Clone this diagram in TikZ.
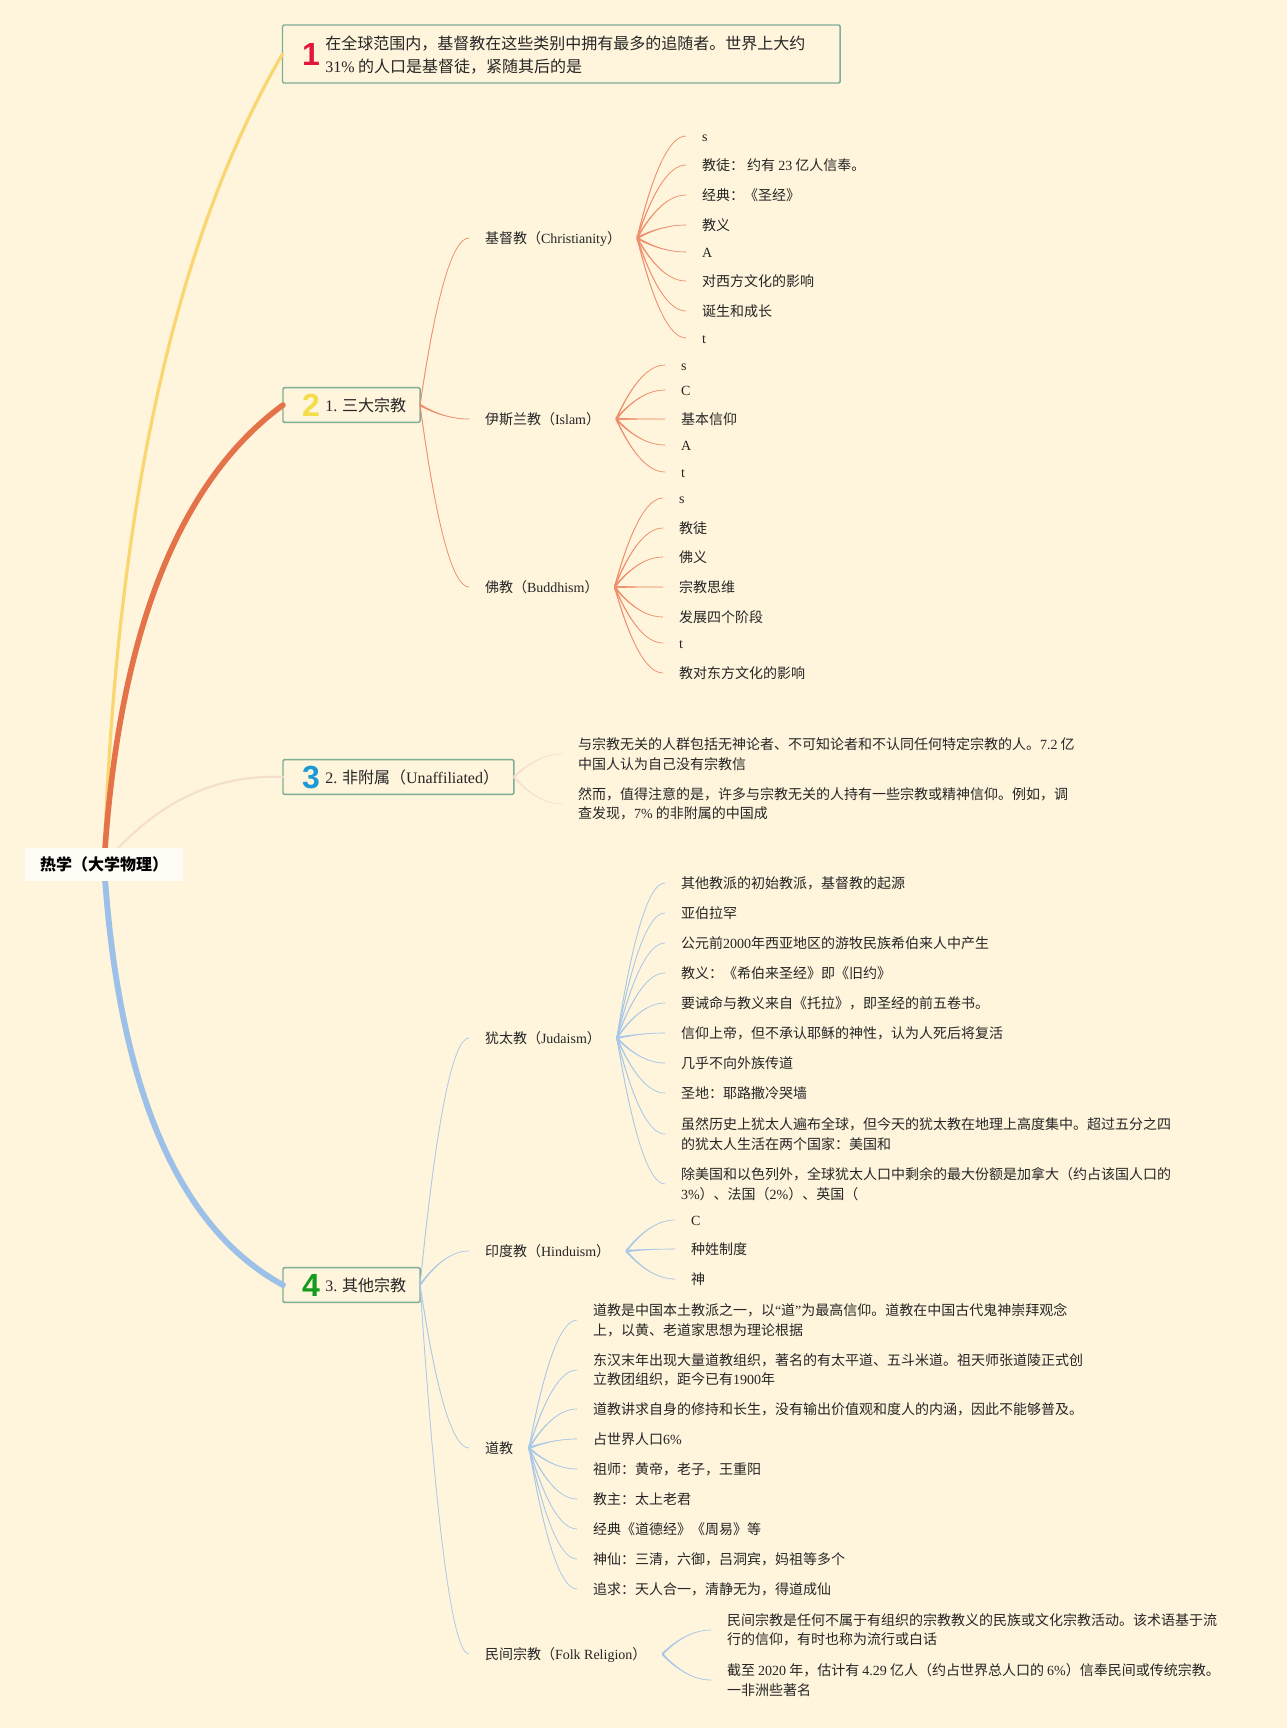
\documentclass[tikz,border=0pt]{standalone}
\usepackage{fontspec}
\newfontfamily\cjk{Noto Sans CJK SC}
\newfontfamily\latfont{Liberation Serif}
\newfontfamily\numfont{Liberation Sans}
\usetikzlibrary{calc}
\definecolor{cpaper}{HTML}{FFF4DC}
\definecolor{cframe}{HTML}{7FAE97}
\definecolor{cyellow}{HTML}{F9D66F}
\definecolor{corange}{HTML}{E5734A}
\definecolor{cblue}{HTML}{9CC0E7}
\definecolor{cpink}{HTML}{F6DECF}
\definecolor{cthinor}{HTML}{EE8F6D}
\definecolor{cthinbl}{HTML}{A9C8E8}
\definecolor{cfirst}{HTML}{E0163A}
\definecolor{csecond}{HTML}{F5DC4A}
\definecolor{cthird}{HTML}{1B9AD6}
\definecolor{cfourth}{HTML}{139C1E}
\newcommand{\lat}[1]{{\latfont #1}}
% tapered curve from the east side of #2 to the west side of #3
\newcommand{\branch}[3]{\draw[#1, fill=#1, line width=0.5pt] let \p1=(#2.east), \p2=(#3.west),
  \p3=({\x1+(\x2-\x1)/3},{\y1+(\y2-\y1)*2/3}), \p4=({\x2-(\x2-\x1)/3},\y2) in
  (\x1,{\y1+0.7pt}) .. controls (\p3) and (\p4) .. (\p2) .. controls (\p4) and (\p3) .. (\x1,{\y1-0.7pt}) -- cycle;}
\tikzset{
  topic/.style={draw=cframe, line width=1.1pt, rounded corners=1pt, anchor=west, inner sep=0pt, outer sep=0pt},
  toptext/.style={anchor=west, inner sep=0pt, align=left, text=black!85, font=\cjk\fontsize{12pt}{17.4pt}\selectfont},
  numb/.style={inner sep=0pt, font=\numfont\bfseries\fontsize{24pt}{24pt}\selectfont},
  para/.style={anchor=west, align=left, inner xsep=12pt, inner ysep=2pt, outer sep=0pt, text=black!85, font=\cjk\fontsize{10.5pt}{14.6pt}\selectfont},
  sub/.style={para, text height=9.2pt, text depth=1pt},
  leaf/.style={sub},
  mainline/.style={line cap=round},
}

\begin{document}
\begin{tikzpicture}[x=0.75pt, y=-0.75pt]
  \fill[cpaper] (0,0) rectangle (1287,1728);
  \coordinate (hub) at (104,864);
  % boxes of the first level
  \node[topic, minimum width=418.2pt, minimum height=43.5pt] (box1) at (282.5,54) {};
  \node[topic, minimum width=102.8pt, minimum height=26pt] (box2) at (283,405) {};
  \node[topic, minimum width=173.2pt, minimum height=26pt] (box3) at (283,777) {};
  \node[topic, minimum width=102.8pt, minimum height=26pt] (box4) at (283,1285) {};
  % the four thick branches
  \draw[mainline, cpink, line width=1.6pt] (hub) .. controls (155,803) and (214,774) .. (box3.west);
  \draw[mainline, cyellow, line width=2.4pt] (hub) .. controls (116,508) and (175,238) .. (box1.west);
  \draw[mainline, corange, line width=4.2pt] (hub) .. controls (118,635) and (178,482) .. (box2.west);
  \draw[mainline, cblue, line width=4.4pt] (hub) .. controls (118,1088) and (178,1228) .. (box4.west);
  \node[numb, text=cfirst] (num1) at (311,54) {1};
  \node[numb, text=csecond] (num2) at (311,405) {2};
  \node[numb, text=cthird] (num3) at (311,777) {3};
  \node[numb, text=cfourth] (num4) at (311,1285) {4};
  \node[toptext] (txt1) at (325,55) {在全球范围内，基督教在这些类别中拥有最多的追随者。世界上大约\\\lat{31\%} 的人口是基督徒，紧随其后的是};
  \node[toptext] (txt2) at (325,405.5) {\lat{1.} 三大宗教};
  \node[toptext] (txt3) at (325,777.5) {\lat{2.} 非附属（\lat{Unaffiliated}）};
  \node[toptext] (txt4) at (325,1285.5) {\lat{3.} 其他宗教};
  % 1. three religions
  \node[sub] (christ) at (469,238) {基督教（\lat{Christianity}）};
  \node[sub] (islam) at (469,419) {伊斯兰教（\lat{Islam}）};
  \node[sub] (buddh) at (469,587) {佛教（\lat{Buddhism}）};
  \node[leaf] (christ1) at (686,136) {\lat{s}};
  \node[leaf] (christ2) at (686,165) {教徒： 约有 \lat{23} 亿人信奉。};
  \node[leaf] (christ3) at (686,195) {经典：《圣经》};
  \node[leaf] (christ4) at (686,225) {教义};
  \node[leaf] (christ5) at (686,252) {\lat{A}};
  \node[leaf] (christ6) at (686,281) {对西方文化的影响};
  \node[leaf] (christ7) at (686,311) {诞生和成长};
  \node[leaf] (christ8) at (686,338) {\lat{t}};
  \node[leaf] (islam1) at (665,365) {\lat{s}};
  \node[leaf] (islam2) at (665,390) {\lat{C}};
  \node[leaf] (islam3) at (665,419) {基本信仰};
  \node[leaf] (islam4) at (665,445) {\lat{A}};
  \node[leaf] (islam5) at (665,472) {\lat{t}};
  \node[leaf] (buddh1) at (663,498) {\lat{s}};
  \node[leaf] (buddh2) at (663,528) {教徒};
  \node[leaf] (buddh3) at (663,557) {佛义};
  \node[leaf] (buddh4) at (663,587) {宗教思维};
  \node[leaf] (buddh5) at (663,617) {发展四个阶段};
  \node[leaf] (buddh6) at (663,643) {\lat{t}};
  \node[leaf] (buddh7) at (663,673) {教对东方文化的影响};
  \foreach \hb in {christ,islam,buddh} {\branch{cthinor}{box2}{\hb}}
  \foreach \k in {1,...,8} {\branch{cthinor}{christ}{christ\k}}
  \foreach \k in {1,...,5} {\branch{cthinor}{islam}{islam\k}}
  \foreach \k in {1,...,7} {\branch{cthinor}{buddh}{buddh\k}}
  % 2. unaffiliated
  \node[para] (unaff1) at (562,754) {与宗教无关的人群包括无神论者、不可知论者和不认同任何特定宗教的人。\lat{7.2} 亿\\中国人认为自己没有宗教信};
  \node[para] (unaff2) at (562,804) {然而，值得注意的是，许多与宗教无关的人持有一些宗教或精神信仰。例如，调\\查发现，\lat{7\%} 的非附属的中国成};
  \foreach \k in {1,2} {\branch{cpink}{box3}{unaff\k}}
  % 3. others
  \node[sub] (judai) at (469,1038) {犹太教（\lat{Judaism}）};
  \node[sub] (hindu) at (469,1251) {印度教（\lat{Hinduism}）};
  \node[sub] (dao) at (469,1448) {道教};
  \node[sub] (folk) at (469,1654) {民间宗教（\lat{Folk Religion}）};
  \node[leaf] (judai1) at (665,883) {其他教派的初始教派，基督教的起源};
  \node[leaf] (judai2) at (665,913) {亚伯拉罕};
  \node[leaf] (judai3) at (665,943) {公元前\lat{2000}年西亚地区的游牧民族希伯来人中产生};
  \node[leaf] (judai4) at (665,973) {教义：《希伯来圣经》即《旧约》};
  \node[leaf] (judai5) at (665,1003) {要诫命与教义来自《托拉》，即圣经的前五卷书。};
  \node[leaf] (judai6) at (665,1033) {信仰上帝，但不承认耶稣的神性，认为人死后将复活};
  \node[leaf] (judai7) at (665,1063) {几乎不向外族传道};
  \node[leaf] (judai8) at (665,1093) {圣地：耶路撒冷哭墙};
  \node[para] (judai9) at (665,1134) {虽然历史上犹太人遍布全球，但今天的犹太教在地理上高度集中。超过五分之四\\的犹太人生活在两个国家：美国和};
  \node[para] (judai10) at (665,1184) {除美国和以色列外，全球犹太人口中剩余的最大份额是加拿大（约占该国人口的\\\lat{3\%}）、法国（\lat{2\%}）、英国（};
  \node[leaf] (hindu1) at (675,1220) {\lat{C}};
  \node[leaf] (hindu2) at (675,1249) {种姓制度};
  \node[leaf] (hindu3) at (675,1279) {神};
  \node[para] (dao1) at (577,1320) {道教是中国本土教派之一，以\lat{“}道\lat{”}为最高信仰。道教在中国古代鬼神崇拜观念\\上，以黄、老道家思想为理论根据};
  \node[para] (dao2) at (577,1370) {东汉末年出现大量道教组织，著名的有太平道、五斗米道。祖天师张道陵正式创\\立教团组织，距今已有\lat{1900}年};
  \node[leaf] (dao3) at (577,1409) {道教讲求自身的修持和长生，没有输出价值观和度人的内涵，因此不能够普及。};
  \node[leaf] (dao4) at (577,1439) {占世界人口\lat{6\%}};
  \node[leaf] (dao5) at (577,1469) {祖师：黄帝，老子，王重阳};
  \node[leaf] (dao6) at (577,1499) {教主：太上老君};
  \node[leaf] (dao7) at (577,1529) {经典《道德经》《周易》等};
  \node[leaf] (dao8) at (577,1559) {神仙：三清，六御，吕洞宾，妈祖等多个};
  \node[leaf] (dao9) at (577,1589) {追求：天人合一，清静无为，得道成仙};
  \node[para] (folk1) at (711,1630) {民间宗教是任何不属于有组织的宗教教义的民族或文化宗教活动。该术语基于流\\行的信仰，有时也称为流行或白话};
  \node[para] (folk2) at (711,1680) {截至 \lat{2020} 年，估计有 \lat{4.29} 亿人（约占世界总人口的 \lat{6\%}）信奉民间或传统宗教。\\一非洲些著名};
  \foreach \hb in {judai,hindu,dao,folk} {\branch{cthinbl}{box4}{\hb}}
  \foreach \k in {1,...,10} {\branch{cthinbl}{judai}{judai\k}}
  \foreach \k in {1,2,3} {\branch{cthinbl}{hindu}{hindu\k}}
  \foreach \k in {1,...,9} {\branch{cthinbl}{dao}{dao\k}}
  \foreach \k in {1,2} {\branch{cthinbl}{folk}{folk\k}}
  % root comes last, it hides where the branches meet
  \node[fill=white!75!cpaper, minimum width=118.5pt, minimum height=24.8pt, inner sep=0pt, font=\cjk\bfseries\fontsize{12pt}{14pt}\selectfont] (root) at (104,864.5) {热学（大学物理）};
\end{tikzpicture}
\end{document}
